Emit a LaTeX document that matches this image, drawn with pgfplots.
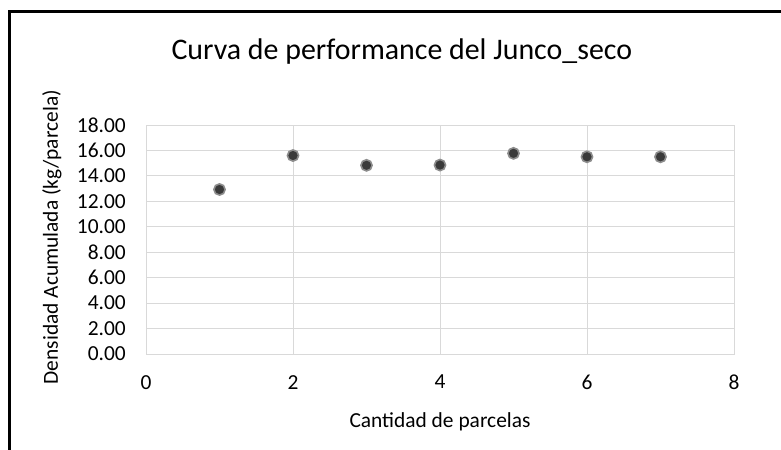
\documentclass[border=0pt]{standalone}
\usepackage{fontspec}
\setmainfont{Carlito}
\usepackage{pgfplots}
\pgfplotsset{compat=1.18}
\definecolor{gridc}{HTML}{D9D9D9}
\definecolor{mfill}{HTML}{3A3A3A}
\definecolor{mdraw}{HTML}{8C8C8C}
\definecolor{txt}{HTML}{000000}
\begin{document}
\begin{tikzpicture}[x=1bp,y=1bp]
\path[use as bounding box] (0,0) rectangle (781,450);
\draw[line width=2.7bp,black] (9.2,0) -- (9.2,438.7) -- (781,438.7);
\begin{axis}[
  at={(146bp,96bp)}, anchor=south west,
  scale only axis, width=588bp, height=229bp,
  xmin=0, xmax=8, ymin=0, ymax=18,
  xtick={0,2,4,6,8}, ytick={0,2,...,18},
  grid=major,
  major grid style={gridc, line width=0.9bp},
  axis line style={gridc, line width=0.9bp},
  major tick length=0pt, tick style={draw=none},
  /pgf/number format/assume math mode=true,
  yticklabel={\pgfmathprintnumber[fixed,fixed zerofill,precision=2]{\tick}},
  xticklabel={\pgfmathprintnumber[fixed,precision=0]{\tick}},
  ticklabel style={font=\fontsize{21.5}{24}\selectfont, text=txt},
  yticklabel style={anchor=east, inner sep=0pt, xshift=-20bp},
  xticklabel style={anchor=north, inner sep=0pt, yshift=-21bp},
  title={Curva de performance del Junco\_seco},
  title style={at={(axis description cs:0.435,1.262)}, anchor=base, font=\fontsize{30}{34}\selectfont, inner sep=0pt},
  xlabel={Cantidad de parcelas},
  xlabel style={at={(axis description cs:0.5,-0.319)}, anchor=base, font=\fontsize{21.5}{24}\selectfont, inner sep=0pt},
  ylabel={Densidad Acumulada (kg/parcela)},
  ylabel style={at={(axis description cs:-0.16,0.51)}, anchor=center, rotate=0, font=\fontsize{21.5}{24}\selectfont, inner sep=0pt},
  clip=false,
]
\addplot[only marks, mark=*, mark size=5.6bp, mark options={fill=mfill, draw=mdraw, line width=1.6bp}]
  coordinates {(1,12.93) (2,15.60) (3,14.83) (4,14.85) (5,15.77) (6,15.50) (7,15.50)};
\end{axis}
\end{tikzpicture}
\end{document}
